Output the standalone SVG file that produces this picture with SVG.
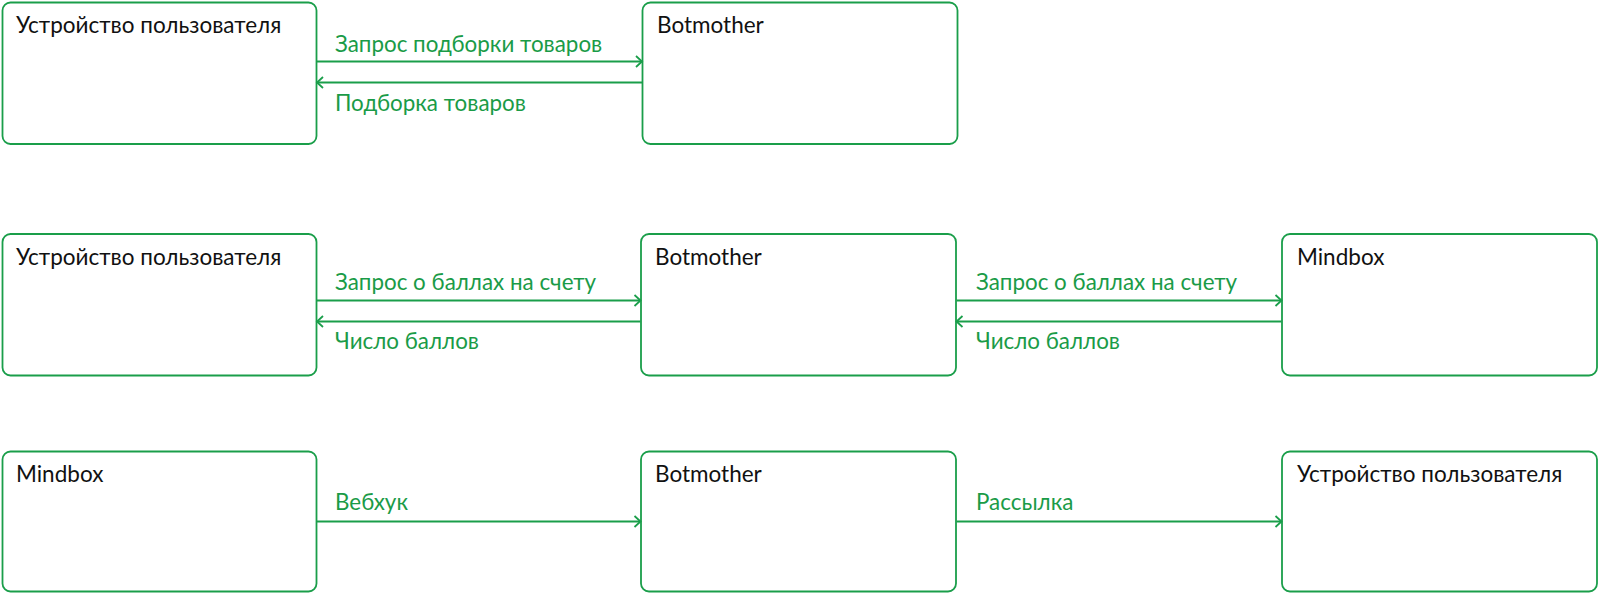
<svg xmlns="http://www.w3.org/2000/svg" width="1600" height="595" viewBox="0 0 1600 595">
<style>
.box{fill:#fff;stroke:#1a9e4a;stroke-width:1.8}
.nt{font-family:"Lato","Noto Sans","Liberation Sans",sans-serif;font-size:22.5px;fill:#111}
.lt{font-family:"Lato","Noto Sans","Liberation Sans",sans-serif;font-size:22.4px;fill:#1a9b47}
.ln{stroke:#1a9e4a;stroke-width:1.8;fill:none}
</style>
<defs>
<marker id="ah" markerWidth="14" markerHeight="14" refX="10" refY="7" orient="auto" markerUnits="userSpaceOnUse">
<path d="M4,1.5 L10,7 L4,12.5" fill="none" stroke="#1a9e4a" stroke-width="1.8"/>
</marker>
</defs>
<rect width="1600" height="595" fill="#fff"/>
<g id="n1"><rect class="box" x="2.5" y="2.5" width="314" height="141.5" rx="8"/><text class="nt" x="16" y="33">Устройство пользователя</text></g>
<g id="n2"><rect class="box" x="642.5" y="2.5" width="315" height="141.5" rx="8"/><text class="nt" x="657" y="33">Botmother</text></g>
<g id="n3"><rect class="box" x="2.5" y="234" width="314" height="141.5" rx="8"/><text class="nt" x="16" y="264.5">Устройство пользователя</text></g>
<g id="n4"><rect class="box" x="641" y="234" width="315" height="141.5" rx="8"/><text class="nt" x="655" y="264.5">Botmother</text></g>
<g id="n5"><rect class="box" x="1282" y="234" width="315" height="141.5" rx="8"/><text class="nt" x="1297" y="264.5">Mindbox</text></g>
<g id="n6"><rect class="box" x="2.5" y="451.5" width="314" height="140" rx="8"/><text class="nt" x="16" y="481.5">Mindbox</text></g>
<g id="n7"><rect class="box" x="641" y="451.5" width="315" height="140" rx="8"/><text class="nt" x="655" y="481.5">Botmother</text></g>
<g id="n8"><rect class="box" x="1282" y="451.5" width="315" height="140" rx="8"/><text class="nt" x="1297" y="481.5">Устройство пользователя</text></g>
<g id="connectors">
<line class="ln" x1="317" y1="61.5" x2="642" y2="61.5" marker-end="url(#ah)"/>
<line class="ln" x1="642" y1="82.5" x2="317" y2="82.5" marker-end="url(#ah)"/>
<text class="lt" x="335" y="52">Запрос подборки товаров</text>
<text class="lt" x="335" y="111">Подборка товаров</text>
<line class="ln" x1="317" y1="300.5" x2="640.5" y2="300.5" marker-end="url(#ah)"/>
<line class="ln" x1="640.5" y1="321.5" x2="317" y2="321.5" marker-end="url(#ah)"/>
<text class="lt" x="335" y="290">Запрос о баллах на счету</text>
<text class="lt" x="335" y="349">Число баллов</text>
<line class="ln" x1="956.5" y1="300.5" x2="1281.5" y2="300.5" marker-end="url(#ah)"/>
<line class="ln" x1="1281.5" y1="321.5" x2="956.5" y2="321.5" marker-end="url(#ah)"/>
<text class="lt" x="976" y="290">Запрос о баллах на счету</text>
<text class="lt" x="976" y="349">Число баллов</text>
<line class="ln" x1="317" y1="521.5" x2="640.5" y2="521.5" marker-end="url(#ah)"/>
<text class="lt" x="335" y="510">Вебхук</text>
<line class="ln" x1="956.5" y1="521.5" x2="1281.5" y2="521.5" marker-end="url(#ah)"/>
<text class="lt" x="976" y="510">Рассылка</text>
</g>
</svg>
